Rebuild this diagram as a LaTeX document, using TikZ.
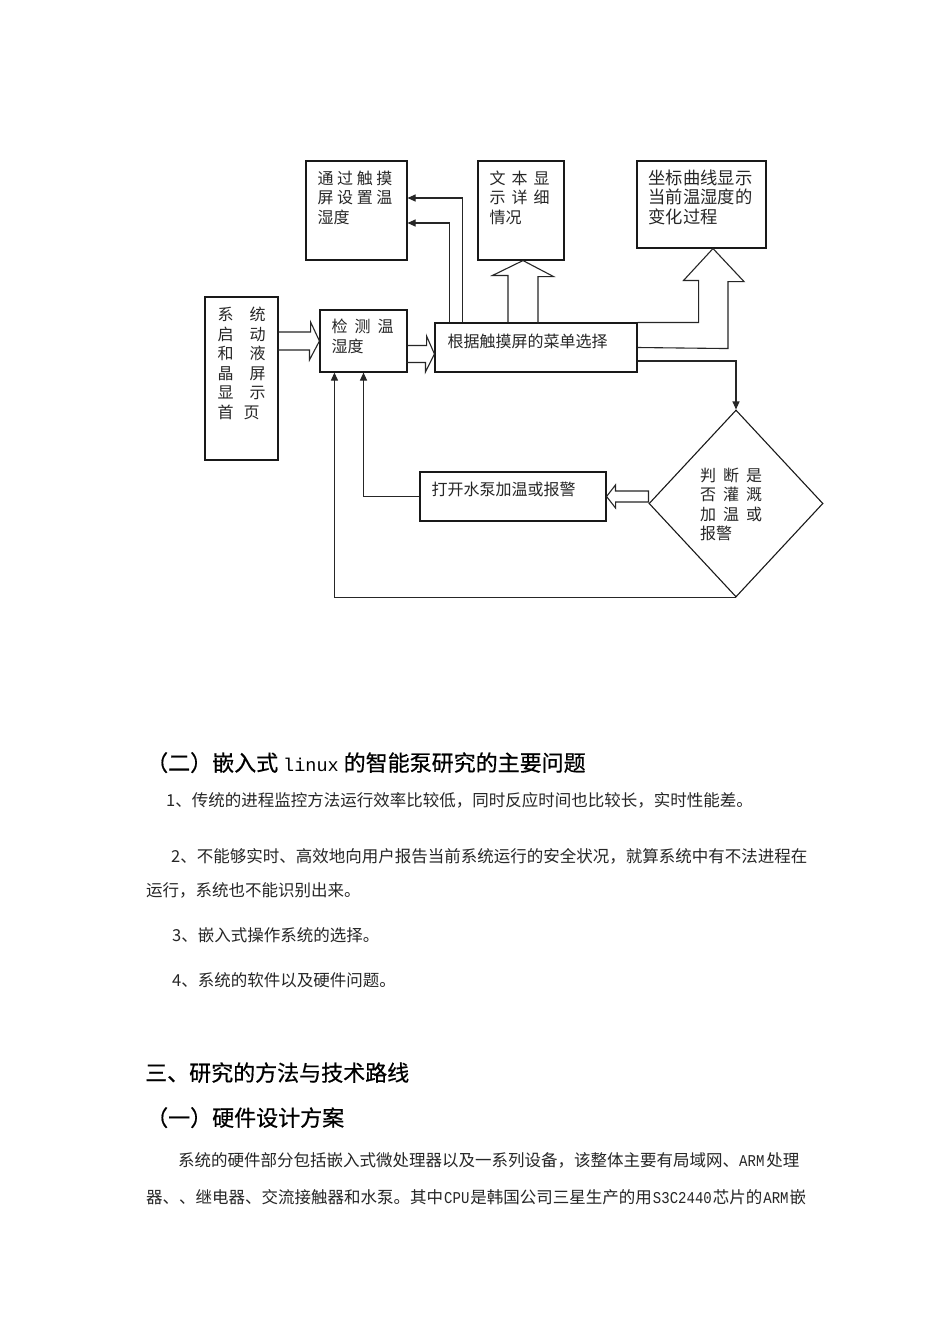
\documentclass[tikz,border=0pt]{standalone}
\usepackage{fontspec}
\setmainfont{Noto Sans CJK SC}
\newfontfamily\hei[FakeBold=0.6]{Noto Sans CJK SC}
\newfontfamily\latin[FakeStretch=0.85]{Liberation Mono}
\setmonofont{Liberation Mono}
\usetikzlibrary{positioning, arrows.meta, calc, shapes.geometric}

\tikzset{
  box/.style={draw=black!90, line width=1.1pt, inner sep=0pt},
  boxtxt/.style={anchor=base west, align=left, inner sep=0pt, text=black!85,
    font=\fontsize{16}{19.5}\selectfont},
  line/.style={draw=black!85, line width=1.1pt},
  arr/.style={line, -{Triangle[length=8pt,width=7pt]}},
  blk/.style={line, line join=miter},
  body/.style={anchor=base west, inner sep=0pt, text=black!85,
    font=\fontsize{16.5}{20}\selectfont},
  head/.style={anchor=base west, inner sep=0pt, text=black,
    font=\hei\fontsize{22}{26}\selectfont},
}

\begin{document}
\begin{tikzpicture}[x=1pt,y=-1pt]
\useasboundingbox[fill=white] (0,0) rectangle (950,1344);

% boxes
\node[box, minimum width=101pt, minimum height=99pt] (set) at (356.5,210.5) {};
\node[box, minimum width=86pt, minimum height=99pt] (txt) at (521,210.5) {};
\node[box, minimum width=129pt, minimum height=87pt] (curve) at (701.5,204.5) {};
\node[box, minimum width=73pt, minimum height=163pt] (start) at (241.5,378.5) {};
\node[box, minimum width=87pt, minimum height=62pt] (detect) at (363.5,341) {};
\node[box, minimum width=202pt, minimum height=49pt] (menu) at (536,347.5) {};
\node[box, diamond, aspect=0.93, minimum width=174pt, minimum height=187pt] (judge) at (736,503.5) {};
\node[box, minimum width=186pt, minimum height=49pt] (pump) at (513,496.5) {};

% box texts (base = last line)
\node[boxtxt] (setl) at ($(set.north west)+(12,63)$) {通 过 触 摸\\屏 设 置 温\\湿度};
\node[boxtxt] (txtl) at ($(txt.north west)+(12,63)$) {文\hspace{6pt}本\hspace{6pt}显\\示\hspace{6pt}详\hspace{6pt}细\\情况};
\node[boxtxt, font=\fontsize{17.3}{19.5}\selectfont] (curvel) at ($(curve.north west)+(12,63)$) {坐标曲线显示\\当前温湿度的\\变化过程};
\node[boxtxt, font=\fontsize{16}{19.6}\selectfont] (startl) at ($(start.north west)+(13,122)$)
  {系\hspace{16pt}统\\启\hspace{16pt}动\\和\hspace{16pt}液\\晶\hspace{16pt}屏\\显\hspace{16pt}示\\首\hspace{10pt}页};
\node[boxtxt, font=\fontsize{16}{20}\selectfont] (detectl) at ($(detect.north west)+(12,43)$) {检\hspace{7pt}测\hspace{7pt}温\\湿度};
\node[boxtxt] (menul) at ($(menu.north west)+(13,25)$) {根据触摸屏的菜单选择};
\node[boxtxt] (pumpl) at ($(pump.north west)+(12,24)$) {打开水泵加温或报警};
\node[boxtxt] (judgel) at ($(judge.center)+(-36,36)$)
  {判\hspace{7pt}断\hspace{7pt}是\\否\hspace{7pt}灌\hspace{7pt}溉\\加\hspace{7pt}温\hspace{7pt}或\\报警};

% hollow arrows
\draw[blk] (start.east |- detect.west) ++(0,-9) -- ++(32,0) -- ++(0,-10) -- (detect.west)
  -- ++(-10,19) -- ++(0,-10) -- ++(-32,0);
\coordinate (menuin) at ($(menu.west)+(0,6.5)$);
\draw[blk] (detect.east |- menuin) ++(0,-8.5) -- ++(19,0) -- ++(0,-9.5) -- (menuin)
  -- ++(-9,18) -- ++(0,-9.5) -- ++(-19,0);
\coordinate (txtin) at ($(txt.south)+(2,0)$);
\draw[blk] (menu.north -| txtin) ++(-15,0) -- ++(0,-47) -- ++(-15.5,0) -- (txtin)
  -- ++(30.5,16) -- ++(-15.5,0) -- ++(0,47);
\coordinate (curvein) at ($(curve.south)+(11.5,0)$);
\draw[blk] (menu.north east) -- ++(61,0) -- ++(0,-42) -- ++(-15,0) -- (curvein)
  -- ++(31,33) -- ++(-16,0) -- ++(0,67) -- (menu.east);
\draw[blk] (judge.west |- pump.east) ++(0,-5.5) -- ++(-33,0) -- ++(0,-6) -- (pump.east)
  -- ++(9,11.5) -- ++(0,-6) -- ++(33,0) -- cycle;

% thin arrows
\draw[arr] ($(menu.north west)+(28,0)$) |- ($(set.east)+(0,-12.5)$);
\draw[arr] ($(menu.north west)+(15,0)$) |- ($(set.east)+(0,12.5)$);
\draw[arr] ($(menu.east)+(0,13.5)$) -| (judge.north);
\draw[arr] (pump.west) -| (detect.south);
\draw[arr] (judge.south) -| ($(detect.south west)+(15,0)$);

% text below
\node[head] (h2) at (146,771) {（二）嵌入式\hspace{5pt}{\ttfamily\fontsize{18.5}{20}\selectfont linux}\hspace{5pt}的智能泵研究的主要问题};
\node[body] (p1) at (166,806) {1、传统的进程监控方法运行效率比较低，同时反应时间也比较长，实时性能差。};
\node[body] (p2) at (171,862) {2、不能够实时、高效地向用户报告当前系统运行的安全状况，就算系统中有不法进程在};
\node[body] (p2b) at (146,896) {运行，系统也不能识别出来。};
\node[body] (p3) at (172,941) {3、嵌入式操作系统的选择。};
\node[body] (p4) at (172,986) {4、系统的软件以及硬件问题。};
\node[head] (h3) at (145,1081) {三、研究的方法与技术路线};
\node[head] (h31) at (146,1126) {（一）硬件设计方案};
\node[body] (p5) at (178,1166) {系统的硬件部分包括嵌入式微处理器以及一系列设备，该整体主要有局域网、{\latin ARM}\hspace{2pt}处理};
\node[body] (p5b) at (146,1203) {器、、继电器、交流接触器和水泵。其中\hspace{1pt}{\latin CPU}\hspace{1pt}是韩国公司三星生产的用\hspace{1pt}{\latin S3C2440}\hspace{1pt}芯片的\hspace{1pt}{\latin ARM}\hspace{1pt}嵌};
\end{tikzpicture}
\end{document}
